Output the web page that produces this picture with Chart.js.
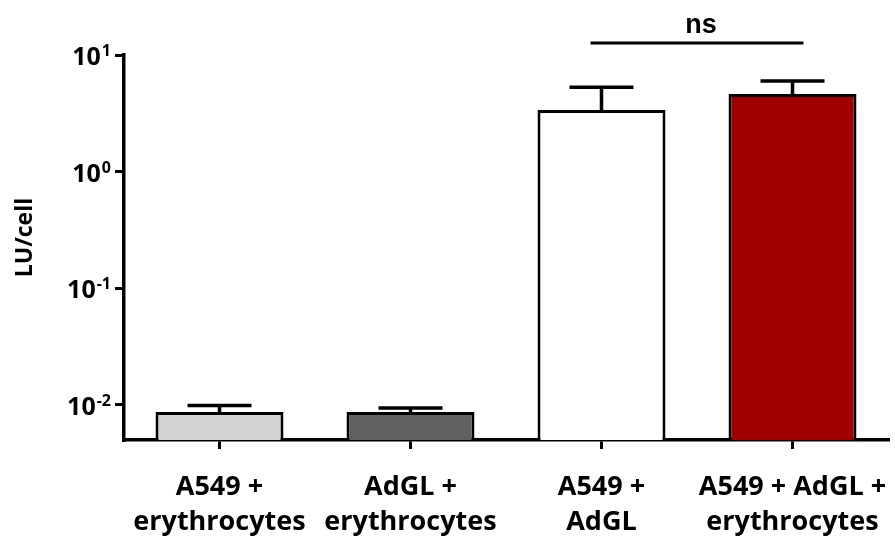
<!DOCTYPE html>
<html>
<head>
<meta charset="utf-8">
<script src="https://cdn.jsdelivr.net/npm/chart.js@4/dist/chart.umd.min.js"></script>
<style>
html,body{margin:0;padding:0;background:#fff;}
#wrap{width:895px;height:539px;}
</style>
</head>
<body>
<div id="wrap"><canvas id="c" width="895" height="539"></canvas></div>
<script>
const categories = [
  ["A549 +", "erythrocytes"],
  ["AdGL +", "erythrocytes"],
  ["A549 +", "AdGL"],
  ["A549 + AdGL +", "erythrocytes"]
];
const meanValues = [0.0087, 0.0087, 3.38, 4.64];
const errorUpper = [0.0099, 0.0094, 5.28, 5.98];
const barColors = ["#d3d3d3", "#606060", "#ffffff", "#a00000"];
const yTickValues = [0.01, 0.1, 1, 10];
const yTickBase = "10";
const yTickExponents = ["-2", "-1", "0", "1"];
const yTitle = "LU/cell";
const sigPair = [2, 3];
const sigLabel = "ns";

const FONT = "'Open Sans', Lato, sans-serif";

const overlay = {
  id: "overlay",
  afterDatasetsDraw(chart) {
    const ctx = chart.ctx;
    const meta = chart.getDatasetMeta(0);
    const y = chart.scales.y;
    const x = chart.scales.x;
    const area = chart.chartArea;
    ctx.save();
    ctx.strokeStyle = "#000";
    ctx.lineWidth = 3.5;
    meta.data.forEach((bar, i) => {
      const top = y.getPixelForValue(meanValues[i]);
      const et = y.getPixelForValue(errorUpper[i]);
      const half = bar.width / 4;
      ctx.beginPath();
      ctx.moveTo(bar.x, top);
      ctx.lineTo(bar.x, et);
      ctx.moveTo(bar.x - half, et);
      ctx.lineTo(bar.x + half, et);
      ctx.stroke();
    });
    // significance bar
    const x1 = x.getPixelForValue(sigPair[0]) - 11;
    const x2 = x.getPixelForValue(sigPair[1]) + 11;
    const ly = area.top - 12;
    ctx.lineWidth = 3;
    ctx.beginPath();
    ctx.moveTo(x1, ly);
    ctx.lineTo(x2, ly);
    ctx.stroke();
    ctx.fillStyle = "#000";
    ctx.font = "bold 27px 'Liberation Sans', Arial, sans-serif";
    ctx.textAlign = "center";
    ctx.textBaseline = "alphabetic";
    ctx.fillText(sigLabel, (x1 + x2) / 2 + 4, ly - 10);

    // y tick labels with superscript exponents
    const right = area.left - 13;
    ctx.textAlign = "right";
    yTickValues.forEach((v, i) => {
      const ty = y.getPixelForValue(v);
      const exp = yTickExponents[i];
      ctx.font = "bold 16px " + FONT;
      const ew = ctx.measureText(exp).width;
      ctx.fillText(exp, right, ty + 1);
      ctx.font = "bold 25px " + FONT;
      ctx.fillText(yTickBase, right - ew - 1, ty + 10);
    });

    // y axis title
    ctx.save();
    ctx.translate(25, (area.top + area.bottom) / 2 - 10);
    ctx.rotate(-Math.PI / 2);
    ctx.textAlign = "center";
    ctx.textBaseline = "middle";
    ctx.font = "bold 23px " + FONT;
    ctx.fillText(yTitle, 0, 0);
    ctx.restore();
    ctx.restore();
  }
};

new Chart(document.getElementById("c"), {
  type: "bar",
  data: {
    labels: categories,
    datasets: [{
      data: meanValues,
      backgroundColor: barColors,
      borderColor: "#000",
      borderWidth: 3,
      borderSkipped: "start",
      categoryPercentage: 1,
      barPercentage: 0.67
    }]
  },
  options: {
    responsive: false,
    animation: false,
    devicePixelRatio: 1,
    layout: { padding: { left: 8, top: 55, right: 7, bottom: 0 } },
    plugins: { legend: { display: false }, tooltip: { enabled: false } },
    scales: {
      x: {
        grid: { display: true, offset: false, drawOnChartArea: false, drawTicks: true, tickLength: 9, color: "#000", lineWidth: 3 },
        border: { display: true, color: "#000", width: 3.5 },
        ticks: {
          color: "#000",
          font: { family: FONT, size: 27, weight: "bold", lineHeight: 1.3 },
          maxRotation: 0, minRotation: 0, autoSkip: false, padding: 21
        },
        afterFit(s) { s.height = 99; s.paddingLeft = 0; s.paddingRight = 0; }
      },
      y: {
        type: "logarithmic",
        min: 0.005,
        max: 10,
        afterBuildTicks(s) { s.ticks = yTickValues.map(v => ({ value: v })); },
        grid: { display: true, drawOnChartArea: false, drawTicks: true, tickLength: 9, color: "#000", lineWidth: 3 },
        border: { display: true, color: "#000", width: 3.5 },
        ticks: { display: false },
        title: { display: false },
        afterFit(s) { s.width = 116; s.paddingTop = 0; s.paddingBottom = 0; }
      }
    }
  },
  plugins: [overlay]
});
</script>
</body>
</html>
